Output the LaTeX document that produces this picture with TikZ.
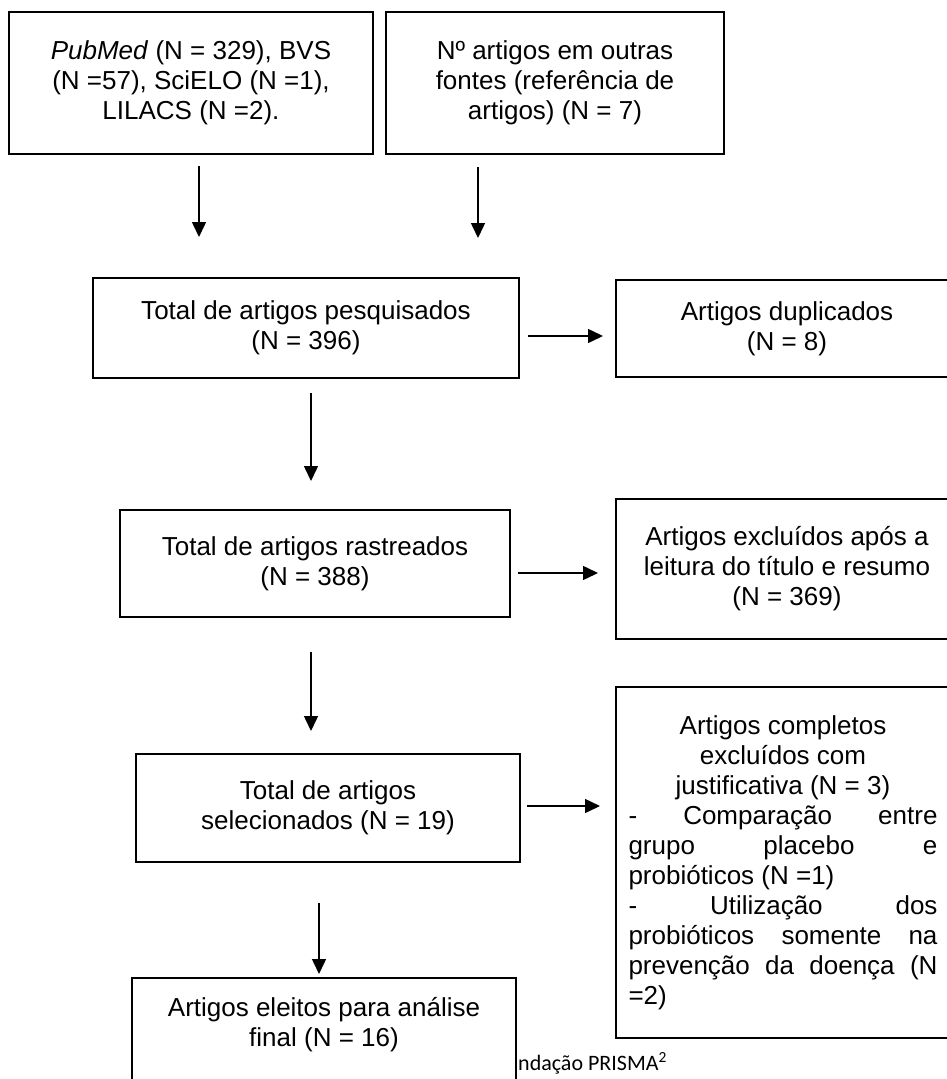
\documentclass[tikz,border=0pt]{standalone}
\usepackage{fontspec}
\setmainfont{Liberation Sans}
\newfontfamily\capfont{Carlito}
\usetikzlibrary{arrows.meta}
\begin{document}
\begin{tikzpicture}[x=1pt,y=-1pt,
  box/.style={draw, line width=1.8pt, fill=white, inner sep=0pt, align=center,
              font=\fontsize{26}{30}\selectfont},
  txt/.style={inner sep=0pt, align=center, font=\fontsize{26}{30}\selectfont},
  arr/.style={line width=1.5pt, -{Triangle[length=15pt,width=14pt]}},
  frame/.style={line width=1.8pt}]
\useasboundingbox (0,0) rectangle (947,1079);
\clip (0,0) rectangle (947,1079);

% boxes
\node[box, minimum width=364pt, minimum height=142pt] (A) at (191,83)
  {\textit{PubMed} (N = 329), BVS\\(N =57), SciELO (N =1),\\LILACS (N =2).};
\node[box, minimum width=338pt, minimum height=142pt] (B) at (555,83)
  {Nº artigos em outras\\fontes (referência de\\artigos) (N = 7)};
\node[box, minimum width=426pt, minimum height=100pt] (C) at (306,328)
  {Total de artigos pesquisados\\(N = 396)};
\node[box, minimum width=342pt, minimum height=97pt] (D) at (787,328.5)
  {Artigos duplicados\\(N = 8)};
\node[box, minimum width=390pt, minimum height=107pt] (R) at (315,563.5)
  {Total de artigos rastreados\\(N = 388)};
\node[box, minimum width=342pt, minimum height=140pt] (X) at (787,569)
  {Artigos excluídos após a\\leitura do título e resumo\\(N = 369)};
\node[box, minimum width=384pt, minimum height=108pt] (F) at (328,808)
  {Total de artigos\\selecionados (N = 19)};
\node[box, minimum width=334pt, minimum height=351pt] (E) at (783,862.5)
  {\makebox[309pt][c]{Artigos completos}\\
   \makebox[309pt][c]{excluídos com}\\
   \makebox[309pt][c]{justificativa (N = 3)}\\
   \makebox[309pt][s]{-\hfill Comparação\hfill entre}\\
   \makebox[309pt][s]{grupo\hfill placebo\hfill e}\\
   \makebox[309pt][l]{probióticos (N =1)}\\
   \makebox[309pt][s]{-\hfill Utilização\hfill dos}\\
   \makebox[309pt][s]{probióticos\hfill somente\hfill na}\\
   \makebox[309pt][s]{prevenção\hfill da\hfill doença\hfill (N}\\
   \makebox[309pt][l]{=2)}};

% last box (runs past the bottom edge)
\node[txt] (G) at (324,1025) {Artigos eleitos para análise\\final (N = 16)};
\coordinate (g1) at (132,1095);
\coordinate (g2) at (132,978);
\coordinate (g3) at (516,978);
\coordinate (g4) at (516,1095);
\draw[frame] (g1) -- (g2) -- (g3) -- (g4);

% caption fragment
\node[anchor=base west, inner sep=0pt, font=\capfont\fontsize{22}{26}\selectfont] (cap)
  at (518,1070) {ndação PRISMA\textsuperscript{2}};

% arrow end points
\coordinate (a1s) at (199,166); \coordinate (a1e) at (199,237);
\coordinate (a2s) at (478,167); \coordinate (a2e) at (478,238);
\coordinate (a3s) at (311,393); \coordinate (a3e) at (311,481);
\coordinate (a4s) at (528,336); \coordinate (a4e) at (603,336);
\coordinate (a5s) at (311,652); \coordinate (a5e) at (311,731);
\coordinate (a6s) at (518,573); \coordinate (a6e) at (598,573);
\coordinate (a7s) at (527,806); \coordinate (a7e) at (600,806);
\coordinate (a8s) at (319,903); \coordinate (a8e) at (319,974);

\draw[arr] (a1s) -- (a1e);
\draw[arr] (a2s) -- (a2e);
\draw[arr] (a3s) -- (a3e);
\draw[arr] (a4s) -- (a4e);
\draw[arr] (a5s) -- (a5e);
\draw[arr] (a6s) -- (a6e);
\draw[arr] (a7s) -- (a7e);
\draw[arr] (a8s) -- (a8e);
\end{tikzpicture}
\end{document}
